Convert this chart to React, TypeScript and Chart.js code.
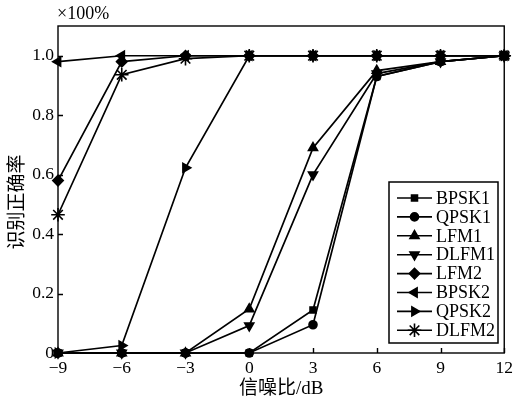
import React, { useEffect, useRef } from "react";
import { Chart, registerables } from "chart.js";
import { drawPoint } from "chart.js/helpers";

Chart.register(...registerables);

const snrValues = [-9, -6, -3, 0, 3, 6, 9, 12];
const yTickValues = [0, 0.2, 0.4, 0.6, 0.8, 1.0];

const seriesNames = ["BPSK1", "QPSK1", "LFM1", "DLFM1", "LFM2", "BPSK2", "QPSK2", "DLFM2"];
const bpsk1 = [0, 0, 0, 0, 0.145, 0.93, 0.98, 1.0];
const qpsk1 = [0, 0, 0, 0, 0.095, 0.93, 0.98, 1.0];
const lfm1 = [0, 0, 0, 0.148, 0.69, 0.95, 0.98, 1.0];
const dlfm1 = [0, 0, 0, 0.092, 0.6, 0.94, 0.98, 1.0];
const lfm2 = [0.58, 0.98, 1.0, 1.0, 1.0, 1.0, 1.0, 1.0];
const bpsk2 = [0.98, 1.0, 1.0, 1.0, 1.0, 1.0, 1.0, 1.0];
const qpsk2 = [0, 0.025, 0.623, 1.0, 1.0, 1.0, 1.0, 1.0];
const dlfm2 = [0.465, 0.936, 0.99, 1.0, 1.0, 1.0, 1.0, 1.0];
const seriesValues = [bpsk1, qpsk1, lfm1, dlfm1, lfm2, bpsk2, qpsk2, dlfm2];

const markerStyles = [
  { pointStyle: "rect", rotation: 0, radius: 4.2 },
  { pointStyle: "circle", rotation: 0, radius: 4 },
  { pointStyle: "triangle", rotation: 0, radius: 5.2 },
  { pointStyle: "triangle", rotation: 180, radius: 5.2 },
  { pointStyle: "rectRot", rotation: 0, radius: 5.2 },
  { pointStyle: "triangle", rotation: -90, radius: 5.2 },
  { pointStyle: "triangle", rotation: 90, radius: 5.2 },
  { pointStyle: "star", rotation: 0, radius: 6.8 },
];

const FONT = '"Liberation Serif", "Noto Sans CJK SC", serif';

const decorPlugin = {
  id: "decor",
  afterDraw(chart: any) {
    const { ctx, chartArea } = chart;
    const { left, right, top, bottom } = chartArea;
    const xs = chart.scales.x;
    const ys = chart.scales.y;
    ctx.save();
    ctx.strokeStyle = "#000";
    ctx.fillStyle = "#000";
    ctx.lineWidth = 1.4;
    ctx.strokeRect(left, top, right - left, bottom - top);
    ctx.beginPath();
    snrValues.forEach((v) => {
      const px = Math.round(xs.getPixelForValue(v)) + 0.5;
      ctx.moveTo(px, bottom);
      ctx.lineTo(px, bottom - 5);
    });
    yTickValues.forEach((v) => {
      const py = Math.round(ys.getPixelForValue(v)) + 0.5;
      ctx.moveTo(left, py);
      ctx.lineTo(left + 5, py);
    });
    ctx.stroke();

    ctx.font = "18px " + FONT;
    ctx.textAlign = "left";
    ctx.textBaseline = "middle";
    ctx.fillText("×100%", left - 1, top - 12);

    ctx.font = "19px " + FONT;
    ctx.textAlign = "center";
    ctx.fillText("信噪比/dB", (left + right) / 2, 389);
    ctx.save();
    ctx.translate(18, 202);
    ctx.rotate(-Math.PI / 2);
    ctx.fillText("识别正确率", 0, 0);
    ctx.restore();

    const lx = 389, ly = 182, lw = 109, lh = 161;
    ctx.fillStyle = "#fff";
    ctx.fillRect(lx, ly, lw, lh);
    ctx.lineWidth = 1.5;
    ctx.strokeStyle = "#000";
    ctx.strokeRect(lx, ly, lw, lh);
    ctx.font = "18px " + FONT;
    ctx.textAlign = "left";
    ctx.textBaseline = "middle";
    seriesNames.forEach((name, i) => {
      const yy = 198 + i * 18.9;
      ctx.strokeStyle = "#000";
      ctx.fillStyle = "#000";
      ctx.lineWidth = 1.6;
      ctx.beginPath();
      ctx.moveTo(397, yy);
      ctx.lineTo(432, yy);
      ctx.stroke();
      const m = markerStyles[i];
      drawPoint(ctx, { pointStyle: m.pointStyle, rotation: m.rotation, radius: m.radius, borderWidth: 1.5 }, 414.5, yy);
      ctx.fillStyle = "#000";
      ctx.fillText(name, 436, yy + 1);
    });
    ctx.restore();
  },
};

export default function App() {
  const ref = useRef<HTMLCanvasElement | null>(null);
  useEffect(() => {
    document.body.style.margin = "0";
    const canvas = ref.current;
    if (!canvas) return;
    const datasets = seriesNames.map((name, i) => ({
      label: name,
      data: snrValues.map((x, j) => ({ x, y: seriesValues[i][j] })),
      borderColor: "#000",
      backgroundColor: "#000",
      borderWidth: 1.7,
      pointStyle: markerStyles[i].pointStyle,
      pointRotation: markerStyles[i].rotation,
      pointRadius: markerStyles[i].radius,
      pointBorderWidth: 1.6,
      pointBackgroundColor: "#000",
      pointBorderColor: "#000",
      tension: 0,
      clip: false as any,
    }));
    const chart = new Chart(canvas, {
      type: "line",
      data: { datasets },
      options: {
        responsive: false,
        animation: false,
        devicePixelRatio: 1,
        layout: { padding: { top: 26, right: 8, left: 0, bottom: 0 } },
        plugins: { legend: { display: false }, tooltip: { enabled: false }, title: { display: false } },
        scales: {
          x: {
            type: "linear",
            min: -9,
            max: 12,
            afterBuildTicks: (s: any) => {
              s.ticks = snrValues.map((v) => ({ value: v }));
            },
            afterFit: (s: any) => {
              s.height = 47;
            },
            grid: { display: false, drawTicks: false },
            border: { display: false },
            ticks: {
              color: "#000",
              padding: 5,
              maxRotation: 0,
              font: { family: FONT, size: 17.5 },
              callback: (v: any) => String(v).replace("-", "−"),
            },
          },
          y: {
            type: "linear",
            min: 0,
            max: 1.1,
            afterBuildTicks: (s: any) => {
              s.ticks = yTickValues.map((v) => ({ value: v }));
            },
            afterFit: (s: any) => {
              s.width = 58;
            },
            grid: { display: false, drawTicks: false },
            border: { display: false },
            ticks: {
              color: "#000",
              padding: 4,
              font: { family: FONT, size: 17.5 },
              callback: (v: any) => (Number(v) === 0 ? "0" : Number(v).toFixed(1)),
            },
          },
        },
      },
      plugins: [decorPlugin],
    });
    return () => chart.destroy();
  }, []);
  return (
    <div style={{ width: 518, height: 400 }}>
      <canvas ref={ref} width={518} height={400} />
    </div>
  );
}
